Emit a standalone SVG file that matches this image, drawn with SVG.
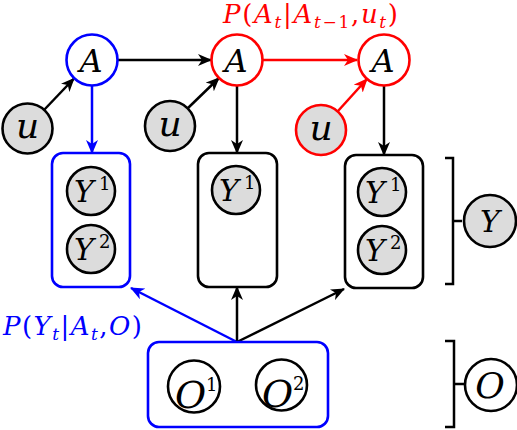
<svg xmlns="http://www.w3.org/2000/svg" width="517" height="430" viewBox="0 0 517 430">
<style>
.c{stroke-width:2.6;}
.blk{stroke:#000;}
.blu{stroke:#0000ff;}
.red{stroke:#ff0000;}
.g{fill:#dcdcdc;}
.w{fill:#fff;}
.box{fill:none;stroke-width:2.6;}
.m{font-family:"DejaVu Serif","Liberation Serif",serif;font-style:italic;fill:#000;}
.n{font-family:"DejaVu Serif","Liberation Serif",serif;font-style:normal;fill:#000;}
.e{fill:none;stroke-width:2.5;}
.lab{font-family:"DejaVu Serif","Liberation Serif",serif;}
.i{font-style:italic;}
</style>
<defs>
<marker id="ak" viewBox="0 0 14 12" refX="13" refY="6" markerWidth="14" markerHeight="12" orient="auto" markerUnits="userSpaceOnUse"><path d="M0,0 L14,6 L0,12 L4,6 z" fill="#000"/></marker>
<marker id="ab" viewBox="0 0 14 12" refX="13" refY="6" markerWidth="14" markerHeight="12" orient="auto" markerUnits="userSpaceOnUse"><path d="M0,0 L14,6 L0,12 L4,6 z" fill="#0000ff"/></marker>
<marker id="ar" viewBox="0 0 14 12" refX="13" refY="6" markerWidth="14" markerHeight="12" orient="auto" markerUnits="userSpaceOnUse"><path d="M0,0 L14,6 L0,12 L4,6 z" fill="#ff0000"/></marker>
</defs>

<g id="connectors">
<line class="e blk" x1="118" y1="60" x2="211" y2="60" marker-end="url(#ak)"/>
<line class="e red" x1="263" y1="60" x2="357" y2="60" marker-end="url(#ar)"/>
<line class="e blk" x1="44" y1="110" x2="74" y2="78.5" marker-end="url(#ak)"/>
<line class="e blk" x1="188" y1="108" x2="219" y2="78" marker-end="url(#ak)"/>
<line class="e red" x1="338" y1="111" x2="367" y2="79" marker-end="url(#ar)"/>
<line class="e blu" x1="92" y1="86" x2="92" y2="153" marker-end="url(#ab)"/>
<line class="e blk" x1="237" y1="86" x2="237" y2="153" marker-end="url(#ak)"/>
<line class="e blk" x1="384" y1="86" x2="384" y2="155" marker-end="url(#ak)"/>
<line class="e blu" x1="237" y1="342" x2="131" y2="288" marker-end="url(#ab)"/>
<line class="e blk" x1="237" y1="342" x2="237" y2="287" marker-end="url(#ak)"/>
<line class="e blk" x1="237" y1="342" x2="344" y2="289" marker-end="url(#ak)"/>
</g>

<g id="A1"><circle class="c blu w" cx="92" cy="60" r="25.5"/><text class="m" x="91" y="71.5" font-size="32" text-anchor="middle">A</text></g>
<g id="A2"><circle class="c red w" cx="237" cy="60" r="25.5"/><text class="m" x="236" y="71.5" font-size="32" text-anchor="middle">A</text></g>
<g id="A3"><circle class="c red w" cx="384" cy="60" r="25.5"/><text class="m" x="383" y="71.5" font-size="32" text-anchor="middle">A</text></g>

<g id="u1"><circle class="c blk g" cx="27.5" cy="128.5" r="25"/><text class="m" x="27.5" y="138" font-size="36" text-anchor="middle">u</text></g>
<g id="u2"><circle class="c blk g" cx="170" cy="126" r="25"/><text class="m" x="170" y="135.5" font-size="36" text-anchor="middle">u</text></g>
<g id="u3"><circle class="c red g" cx="321" cy="130" r="25"/><text class="m" x="321" y="139.5" font-size="36" text-anchor="middle">u</text></g>

<g id="Ybox1">
<rect class="box blu" x="52" y="153" width="78" height="134" rx="11"/>
<circle class="c blk g" cx="91" cy="191" r="24"/>
<text class="m" x="74" y="202" font-size="30">Y</text><text class="n" x="99" y="190" font-size="18">1</text>
<circle class="c blk g" cx="91" cy="249" r="24"/>
<text class="m" x="74" y="260" font-size="30">Y</text><text class="n" x="99" y="248" font-size="18">2</text>
</g>

<g id="Ybox2">
<rect class="box blk" x="198" y="153" width="79" height="134" rx="11"/>
<circle class="c blk g" cx="236" cy="190" r="24"/>
<text class="m" x="219" y="201" font-size="30">Y</text><text class="n" x="244" y="189" font-size="18">1</text>
</g>

<g id="Ybox3">
<rect class="box blk" x="345" y="155" width="78" height="133" rx="11"/>
<circle class="c blk g" cx="382" cy="192" r="24"/>
<text class="m" x="365" y="203" font-size="30">Y</text><text class="n" x="390" y="191" font-size="18">1</text>
<circle class="c blk g" cx="382" cy="250" r="24"/>
<text class="m" x="365" y="261" font-size="30">Y</text><text class="n" x="390" y="249" font-size="18">2</text>
</g>

<g id="Obox">
<rect class="box blu" x="148" y="342" width="180" height="85" rx="11"/>
<circle class="c blk w" cx="194" cy="386.5" r="26"/>
<text class="m" x="175" y="408" font-size="38">O</text><text class="n" x="206" y="391" font-size="18">1</text>
<circle class="c blk w" cx="281.5" cy="385" r="25.5"/>
<text class="m" x="262" y="407" font-size="38">O</text><text class="n" x="293" y="390" font-size="18">2</text>
</g>

<g id="Ybracket">
<path d="M445,158 H453 V284 H445 M453,221 H462" fill="none" stroke="#000" stroke-width="2.5"/>
<circle class="c blk g" cx="490" cy="221" r="26"/>
<text class="m" x="490" y="232" font-size="30" text-anchor="middle">Y</text>
</g>

<g id="Obracket">
<path d="M445,341 H454 V427 H445 M454,384 H464" fill="none" stroke="#000" stroke-width="2.5"/>
<circle class="c blk w" cx="491" cy="385" r="26"/>
<text class="m" x="490" y="398" font-size="36" text-anchor="middle">O</text>
</g>

<g id="labels">
<text class="lab" x="223" y="23" font-size="26" fill="#ff0000" textLength="175" lengthAdjust="spacing"><tspan class="i">P</tspan>(<tspan class="i">A</tspan><tspan class="i" font-size="17" dy="5">t</tspan><tspan dy="-5">|</tspan><tspan class="i">A</tspan><tspan font-size="17" dy="5"><tspan class="i">t</tspan>−1</tspan><tspan dy="-5">,</tspan><tspan class="i">u</tspan><tspan class="i" font-size="17" dy="5">t</tspan><tspan dy="-5">)</tspan></text>
<text class="lab" x="3" y="335" font-size="26" fill="#0000ff" textLength="139" lengthAdjust="spacing"><tspan class="i">P</tspan>(<tspan class="i">Y</tspan><tspan class="i" font-size="17" dy="5">t</tspan><tspan dy="-5">|</tspan><tspan class="i">A</tspan><tspan class="i" font-size="17" dy="5">t</tspan><tspan dy="-5">,</tspan><tspan class="i">O</tspan>)</text>
</g>
</svg>
